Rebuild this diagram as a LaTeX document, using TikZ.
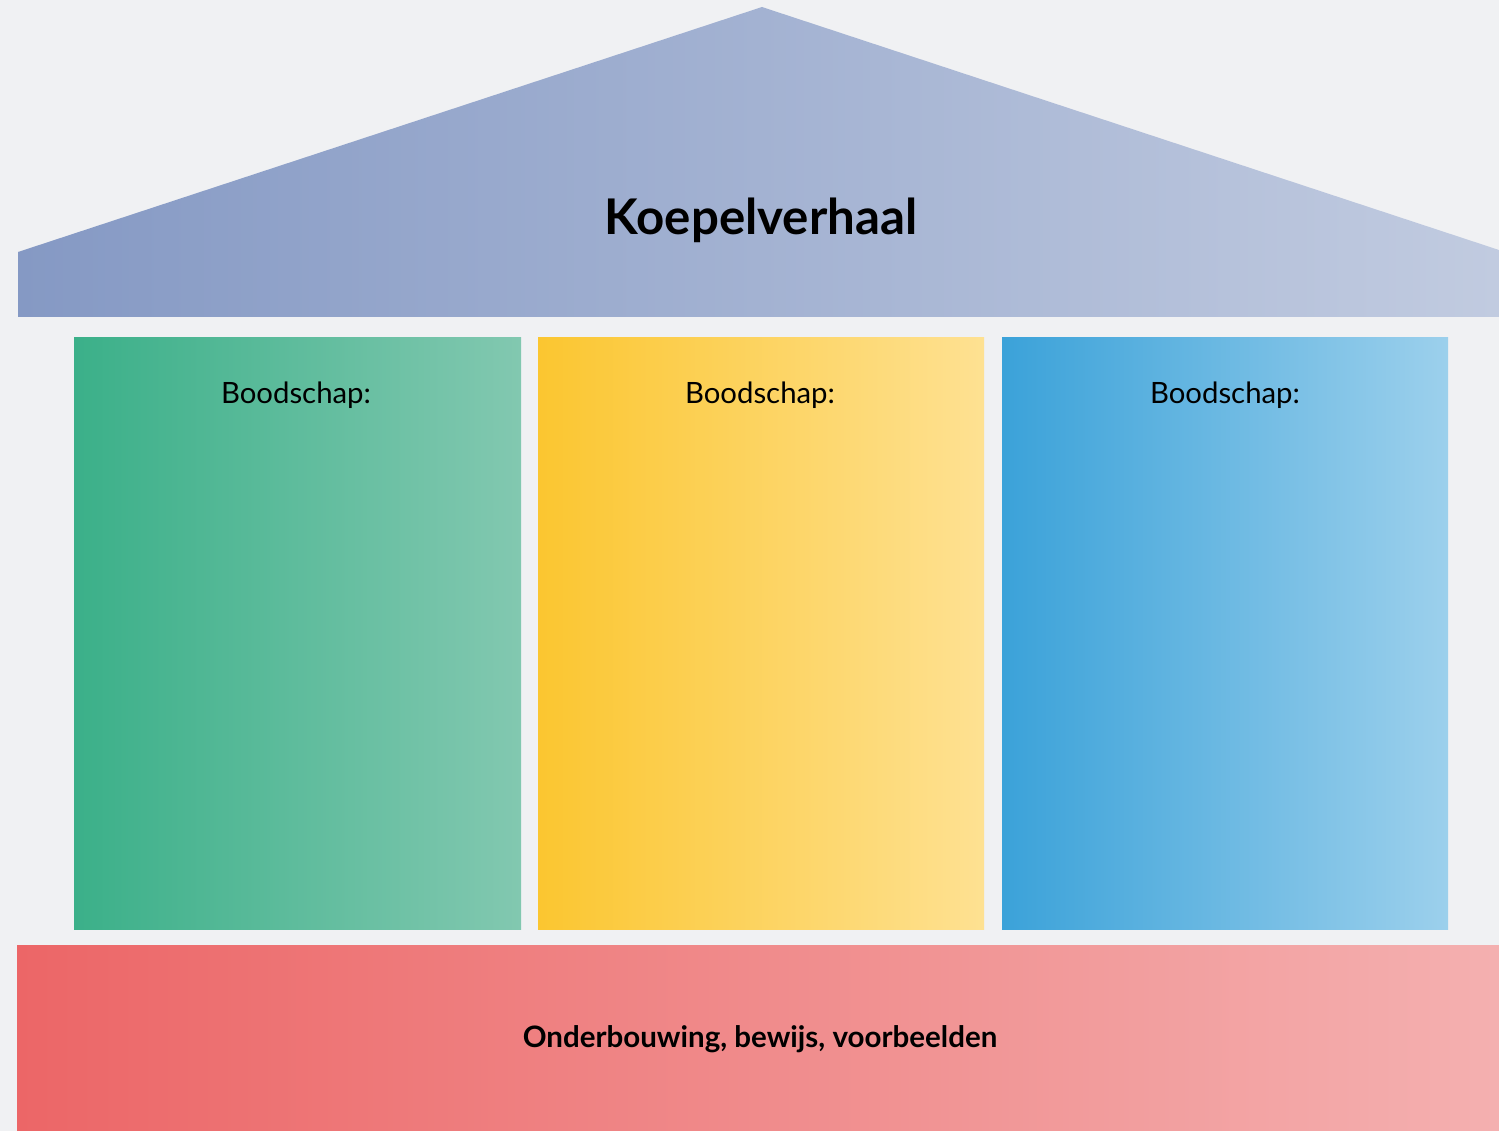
\documentclass[tikz,border=0pt]{standalone}
\usepackage{fontspec}
\setmainfont{Lato}
\definecolor{bg}{HTML}{F0F1F3}
\definecolor{roofL}{HTML}{8599C4}
\definecolor{roofR}{HTML}{C1CBE0}
\definecolor{grL}{HTML}{3BB089}
\definecolor{grR}{HTML}{82C8B0}
\definecolor{yeL}{HTML}{FBC630}
\definecolor{yeR}{HTML}{FEE192}
\definecolor{blL}{HTML}{3BA2D9}
\definecolor{blR}{HTML}{9CD0EC}
\definecolor{rdL}{HTML}{EC6667}
\definecolor{rdR}{HTML}{F4B0B0}
\tikzset{
  pillarlabel/.style={font=\fontsize{16.7}{20}\selectfont, text=black, anchor=center},
  titlelabel/.style={font=\fontsize{28}{33}\selectfont\bfseries, text=black},
  baselabel/.style={font=\fontsize{16.8}{20}\selectfont\bfseries, text=black}
}
\begin{document}
\begin{tikzpicture}[x=0.02cm,y=-0.02cm]
\useasboundingbox (0,0) rectangle (1499,1131);
\fill[bg] (0,0) rectangle (1499,1131);
% roof
\shade[left color=roofL, right color=roofR] (18,317) -- (18,252) -- (762,7) -- (1499,250) -- (1499,317) -- cycle;
\node[titlelabel] (title) at (761,220) {Koepelverhaal};
% pillars
\shade[left color=grL, right color=grR] (74,338) rectangle (521,930);
\shade[left color=yeL, right color=yeR] (538,338) rectangle (984,930);
\shade[left color=blL, right color=blR] (1002,338) rectangle (1448,930);
\node[pillarlabel] (m1) at (296,395) {Boodschap:};
\node[pillarlabel] (m2) at (760,395) {Boodschap:};
\node[pillarlabel] (m3) at (1225,395) {Boodschap:};
% base
\shade[left color=rdL, right color=rdR] (17,945) rectangle (1499,1131);
\node[baselabel] (base) at (760,1039) {Onderbouwing, bewijs, voorbeelden};
\end{tikzpicture}
\end{document}
